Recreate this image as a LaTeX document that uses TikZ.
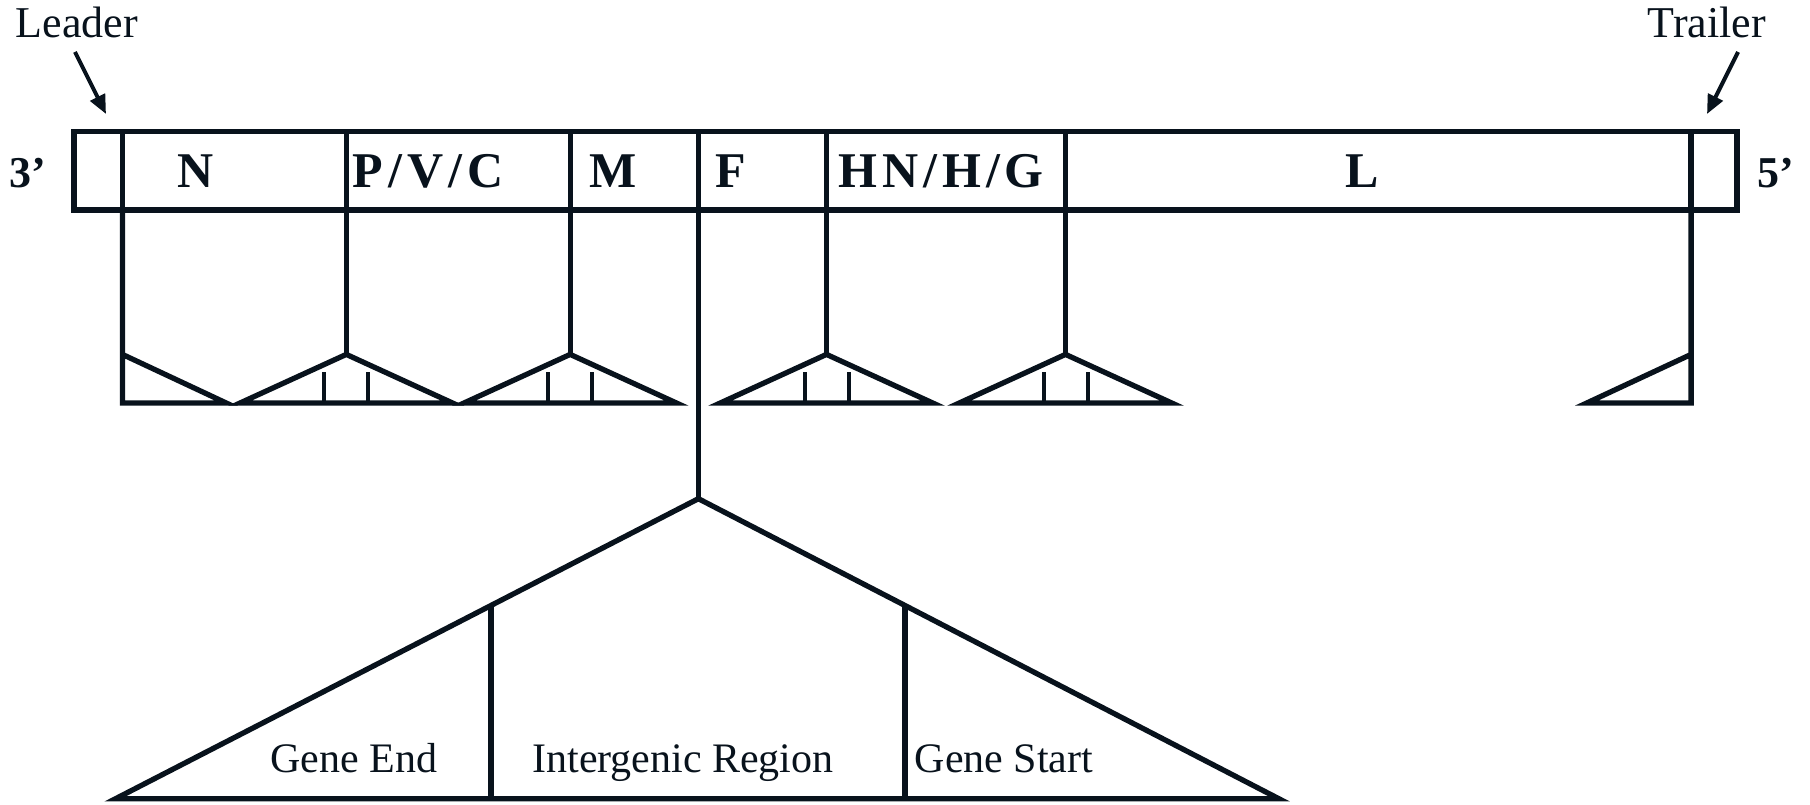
\documentclass[tikz,border=0pt]{standalone}
\usepackage{fontspec}
\setmainfont{Liberation Serif}
\usetikzlibrary{calc,arrows.meta}
\definecolor{ink}{RGB}{8,18,28}
\begin{document}
\begin{tikzpicture}[x=1pt,y=-1pt,
  line width=5.3pt, draw=ink, line join=miter,
  seglabel/.style={font=\fontsize{50}{50}\selectfont\bfseries\addfontfeature{LetterSpace=10}, text=ink, anchor=base, inner sep=0pt},
  endlabel/.style={font=\fontsize{44}{44}\selectfont\bfseries, text=ink, anchor=base, inner sep=0pt},
  toplabel/.style={font=\fontsize{44}{44}\selectfont, text=ink, anchor=base, inner sep=0pt},
  botlabel/.style={font=\fontsize{42}{42}\selectfont, text=ink, anchor=base, inner sep=0pt},
  tick/.style={line width=4pt},
  pointer/.style={line width=4pt, -{Triangle[length=19pt,width=16pt]}}
]
\useasboundingbox (0,0) rectangle (1810,805);

% genome box
\coordinate (BL) at (74,131.6);
\coordinate (BR) at (1737,210.1);
\draw (BL) rectangle (BR);
\foreach \n/\x in {d0/122.4,d1/346.3,d2/570.2,d3/698.4,d4/826.5,d5/1065.5,d6/1691.1}{
  \coordinate (\n t) at (\x,131.6);
  \coordinate (\n b) at (\x,210.1);
  \draw (\n t) -- (\n b);
}

% segment labels
\node[endlabel] (p3) at (28,188) {3’};
\node[seglabel] (lN) at (196,188) {N};
\node[seglabel] (lP) at (428,188) {P/V/C};
\node[seglabel] (lM) at (613,188) {M};
\node[seglabel] (lF) at (731,188) {F};
\node[seglabel] (lH) at (941,188) {HN/H/G};
\node[seglabel] (lL) at (1362,188) {L};
\node[endlabel] (p5) at (1776,188) {5’};

% leader / trailer
\node[toplabel] (leader) at (77,38) {Leader};
\node[toplabel] (trailer) at (1707,38) {Trailer};
\coordinate (la) at (75,52);
\coordinate (lb) at (106,114);
\coordinate (ta) at (1738,52);
\coordinate (tb) at (1707,114);
\draw[pointer] (la) -- (lb);
\draw[pointer] (ta) -- (tb);

% leader end triangle
\coordinate (Lap) at (122.4,354.4);
\coordinate (Lbase) at (122.4,402.9);
\coordinate (Ltip) at (226,402.9);
\draw (d0b) -- (Lbase) -- (Ltip) -- (Lap);

% trailer end triangle
\coordinate (Tap) at (1691.1,354.4);
\coordinate (Tbase) at (1691.1,402.9);
\coordinate (Ttip) at (1587,402.9);
\draw (d6b) -- (Tbase) -- (Ttip) -- (Tap);

% junction triangles
\foreach \n/\x in {d1/346.3,d2/570.2,d4/826.5,d5/1065.5}{
  \coordinate (\n a) at (\x,354.4);
  \draw (\n b) -- (\n a);
  \draw (\x-106,402.9) -- (\n a) -- (\x+106,402.9) -- cycle;
  \draw[tick] (\x-22,372) -- (\x-22,402.9);
  \draw[tick] (\x+22,372) -- (\x+22,402.9);
}

% expanded junction
\coordinate (Fa) at (698.4,498.7);
\coordinate (GL) at (115.4,798.8);
\coordinate (GR) at (1279,798.8);
\draw (d3b) -- (Fa);
\draw (GL) -- (Fa) -- (GR) -- cycle;
\coordinate (s1) at ($(Fa)!0.3557!(GL)$);
\coordinate (s2) at ($(Fa)!0.3557!(GR)$);
\draw (s1) -- (s1 |- GL);
\draw (s2) -- (s2 |- GR);

\node[botlabel] (ge) at (354,772) {Gene End};
\node[botlabel] (ir) at (683,772) {Intergenic Region};
\node[botlabel] (gs) at (1004,772) {Gene Start};
\end{tikzpicture}
\end{document}
